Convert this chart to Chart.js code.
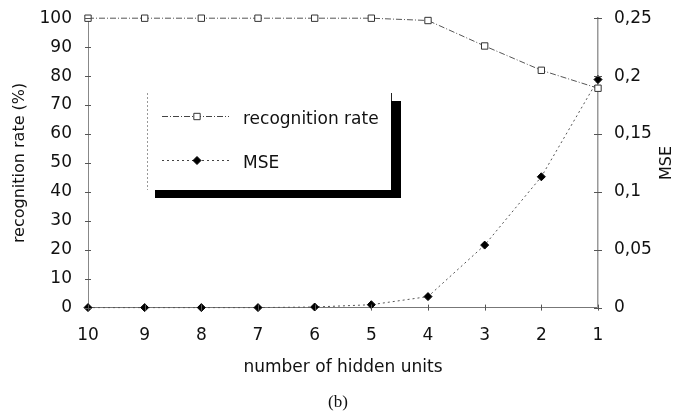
<!DOCTYPE html>
<html>
<head>
<meta charset="utf-8">
<script src="https://cdn.jsdelivr.net/npm/chart.js@4"></script>
<style>
  html, body { margin: 0; padding: 0; background: #fff; }
  #wrap { width: 676px; height: 414px; }
</style>
</head>
<body>
<div id="wrap"><canvas id="c" width="676" height="414"></canvas></div>
<script>
// Hidden units, from largest network to smallest
const hiddenUnits = ['10', '9', '8', '7', '6', '5', '4', '3', '2', '1'];
// Recognition rate in percent
const recognitionRate = [100, 100, 100, 100, 100, 100, 99.2, 90.4, 82, 75.8];
// Mean squared error
const mseValues = [0, 0, 0, 0, 0.0005, 0.0025, 0.0095, 0.054, 0.113, 0.197];
// Tick labels of the MSE axis (decimal comma)
const mseTicks = ['0', '0,05', '0,1', '0,15', '0,2', '0,25'];

const FONT = 'DejaVu Sans, Verdana, sans-serif';
const recDash = [6, 2, 1, 2];
const mseDash = [2, 3];

// Boxed legend with a solid drop shadow, drawn inside the plot
const boxedLegend = {
  id: 'boxedLegend',
  afterDraw(chart) {
    const ctx = chart.ctx;
    ctx.save();
    // shadow
    ctx.fillStyle = '#000';
    ctx.fillRect(391, 101, 10, 97);
    ctx.fillRect(155, 190, 246, 8);
    // frame
    ctx.strokeStyle = '#999';
    ctx.lineWidth = 1;
    ctx.setLineDash([2, 2]);
    ctx.beginPath();
    ctx.moveTo(147.5, 93);
    ctx.lineTo(147.5, 190);
    ctx.stroke();
    ctx.setLineDash([]);
    ctx.strokeStyle = '#222';
    ctx.beginPath();
    ctx.moveTo(391.5, 93);
    ctx.lineTo(391.5, 101);
    ctx.stroke();

    const items = [
      { ds: chart.data.datasets[0], y: 116.5 },
      { ds: chart.data.datasets[1], y: 160.5 }
    ];
    items.forEach(it => {
      ctx.strokeStyle = '#444';
      ctx.lineWidth = 1;
      ctx.setLineDash(it.ds.borderDash);
      ctx.beginPath();
      ctx.moveTo(162, it.y);
      ctx.lineTo(229, it.y);
      ctx.stroke();
      ctx.setLineDash([]);
      ctx.fillStyle = it.ds.pointBackgroundColor;
      ctx.strokeStyle = it.ds.pointBorderColor;
      Chart.helpers.drawPoint(ctx, {
        pointStyle: it.ds.pointStyle,
        radius: it.ds.pointRadius,
        borderWidth: it.ds.pointBorderWidth
      }, 197, it.y);
      ctx.fillStyle = '#111';
      ctx.font = '17px ' + FONT;
      ctx.textBaseline = 'middle';
      ctx.textAlign = 'left';
      ctx.fillText(it.ds.label, 243, it.y + 3);
    });
    ctx.restore();
  }
};

// Small cross-shaped tick marks straddling each axis line,
// plus the MSE axis title reading bottom to top
const crossTicks = {
  id: 'crossTicks',
  afterDraw(chart) {
    const ctx = chart.ctx;
    const { x, y, y1 } = chart.scales;
    ctx.save();
    ctx.strokeStyle = '#555';
    ctx.lineWidth = 1;
    y.ticks.forEach((t, i) => {
      const py = Math.round(y.getPixelForTick(i)) + 0.5;
      ctx.beginPath(); ctx.moveTo(y.right - 3, py); ctx.lineTo(y.right + 3, py); ctx.stroke();
    });
    y1.ticks.forEach((t, i) => {
      const py = Math.round(y1.getPixelForTick(i)) + 0.5;
      ctx.beginPath(); ctx.moveTo(y1.left - 4, py); ctx.lineTo(y1.left + 4, py); ctx.stroke();
    });
    x.ticks.forEach((t, i) => {
      const px = Math.round(x.getPixelForTick(i)) + 0.5;
      ctx.beginPath(); ctx.moveTo(px, x.top - 3); ctx.lineTo(px, x.top + 3); ctx.stroke();
    });
    // right axis title
    ctx.translate(667, (y1.top + y1.bottom) / 2);
    ctx.rotate(-Math.PI / 2);
    ctx.fillStyle = '#111';
    ctx.font = '16px ' + FONT;
    ctx.textAlign = 'center';
    ctx.textBaseline = 'middle';
    ctx.fillText('MSE', 0, 0);
    ctx.restore();
  }
};

new Chart(document.getElementById('c'), {
  type: 'line',
  data: {
    labels: hiddenUnits,
    datasets: [
      {
        label: 'recognition rate',
        data: recognitionRate,
        yAxisID: 'y',
        clip: false,
        borderColor: '#555',
        borderWidth: 1,
        borderDash: recDash,
        tension: 0,
        pointStyle: 'rect',
        pointRadius: 4.5,
        pointBorderWidth: 1,
        pointBorderColor: '#333',
        pointBackgroundColor: '#fff'
      },
      {
        label: 'MSE',
        data: mseValues,
        yAxisID: 'y1',
        clip: false,
        borderColor: '#555',
        borderWidth: 1,
        borderDash: mseDash,
        tension: 0,
        pointStyle: 'rectRot',
        pointRadius: 4,
        pointBorderWidth: 1,
        pointBorderColor: '#000',
        pointBackgroundColor: '#000'
      }
    ]
  },
  options: {
    responsive: false,
    animation: false,
    devicePixelRatio: 1,
    layout: { padding: { top: 14, left: 0, right: 0, bottom: 0 } },
    plugins: {
      legend: { display: false },
      tooltip: { enabled: false },
      title: {
        display: true,
        position: 'bottom',
        text: '(b)',
        color: '#111',
        font: { family: 'Liberation Serif, Times New Roman, serif', size: 17, weight: 'normal' },
        padding: { top: 15, bottom: 1 }
      }
    },
    scales: {
      x: {
        offset: false,
        grid: { display: false, drawOnChartArea: false },
        border: { display: true, color: '#777', width: 1, dash: [8, 2] },
        ticks: { color: '#111', font: { family: FONT, size: 17 }, padding: 10, maxRotation: 0 },
        title: {
          display: true,
          text: 'number of hidden units',
          color: '#111',
          font: { family: FONT, size: 17 },
          padding: { top: 8, bottom: 0 }
        },
        afterFit(s) { s.height = 70; }
      },
      y: {
        position: 'left',
        min: 0, max: 100,
        ticks: { stepSize: 10, color: '#111', font: { family: FONT, size: 17 }, padding: 8 },
        grid: { display: false, drawOnChartArea: false },
        border: { display: true, color: '#888', width: 1, dash: [4, 2, 1, 2] },
        title: {
          display: true,
          text: 'recognition rate (%)',
          color: '#111',
          font: { family: FONT, size: 16 },
          padding: { top: 10, bottom: 2 }
        },
        afterFit(s) { s.width = 88; }
      },
      y1: {
        position: 'right',
        min: 0, max: 0.25,
        ticks: {
          stepSize: 0.05,
          color: '#111',
          font: { family: FONT, size: 17 },
          padding: 8,
          callback: (v, i) => mseTicks[i]
        },
        grid: { display: false, drawOnChartArea: false },
        border: { display: true, color: '#999', width: 1.5 },
        title: { display: false },
        afterFit(s) { s.width = 78; }
      }
    }
  },
  plugins: [crossTicks, boxedLegend]
});
</script>
</body>
</html>
